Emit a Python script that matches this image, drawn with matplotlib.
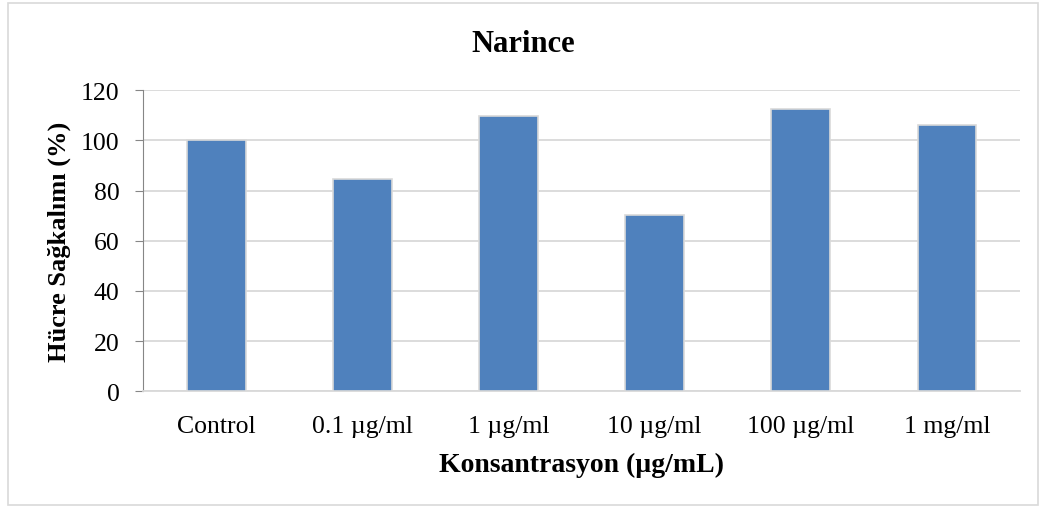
import matplotlib

matplotlib.use("Agg")
import matplotlib.pyplot as plt
from matplotlib.patches import Rectangle

categories = ["Control", "0.1 µg/ml", "1 µg/ml", "10 µg/ml", "100 µg/ml", "1 mg/ml"]
survival = [100.0, 84.7, 109.6, 70.3, 112.5, 106.2]
yticks = [0, 20, 40, 60, 80, 100, 120]


def main() -> None:
    plt.rcParams["font.family"] = ["Liberation Serif", "DejaVu Serif"]

    fig = plt.figure(figsize=(10.46, 5.10), dpi=100)
    ax = fig.add_axes([0.137, 0.231, 0.838, 0.59])

    x = list(range(len(categories)))
    ax.bar(x, survival, width=0.4, color="#4F81BD", edgecolor="#D9D9D9", linewidth=1.2, zorder=3)

    ax.set_xlim(-0.5, len(categories) - 0.5)
    ax.set_ylim(0, 120)
    ax.set_yticks(yticks)
    ax.set_xticks(x)
    ax.set_xticklabels(categories)
    ax.tick_params(axis="x", length=0, pad=17, labelsize=18.5)
    ax.tick_params(axis="y", length=6, color="#868686", pad=11, labelsize=18.5)
    ax.grid(axis="y", color="#D9D9D9", lw=1.3, zorder=0)

    for side in ["top", "right"]:
        ax.spines[side].set_visible(False)
    ax.spines["left"].set_color("#868686")
    ax.spines["bottom"].set_color("#D9D9D9")
    ax.spines["bottom"].set_linewidth(1.3)

    fig.text(0.5, 1 - 45 / 510, "Narince", fontsize=22, fontweight="bold", ha="center", va="center")
    ax.set_xlabel("Konsantrasyon (µg/mL)", fontsize=20, fontweight="bold")
    ax.xaxis.set_label_coords(0.5, -0.2)
    ax.set_ylabel("Hücre Sağkalımı (%)", fontsize=19, fontweight="bold")
    ax.yaxis.set_label_coords(-0.083, 0.5)

    fig.patches.append(Rectangle((0.008, 0.008), 0.984, 0.984, transform=fig.transFigure,
                                 fill=False, edgecolor="#D9D9D9", lw=1.2))

    fig.savefig("out.png", dpi=100)
    plt.close(fig)


if __name__ == "__main__":
    main()
